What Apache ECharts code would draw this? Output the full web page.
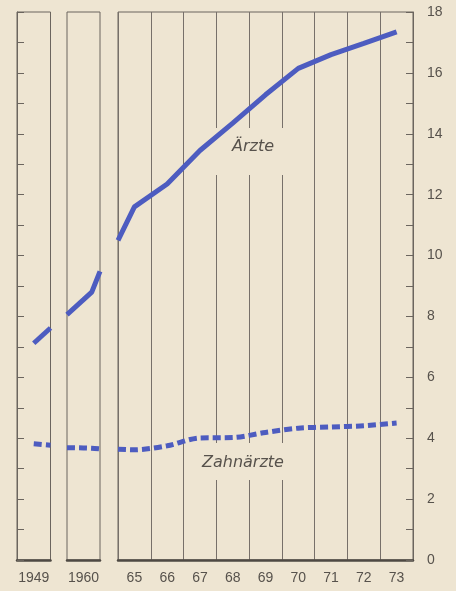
<!DOCTYPE html>
<html>
<head>
<meta charset="utf-8">
<script src="https://cdn.jsdelivr.net/npm/echarts@6/dist/echarts.min.js"></script>
<style>
html,body{margin:0;padding:0;background:#eee5d2;}
#c{width:456px;height:591px;}
</style>
</head>
<body>
<div id="c"></div>
<script>
// ---- data ----
const cats1 = ['1949'];
const cats2 = ['1960'];
const cats3 = ['65','66','67','68','69','70','71','72','73'];
const yTicks = [0,2,4,6,8,10,12,14,16,18];

// x positions (years; half-year values are panel edges)
const xP1 = [1949, 1949.5];
const aerzteP1 = [7.12, 7.62];
const zahnP1 = [3.82, 3.77];

const xP2 = [1959.5, 1960, 1960.25, 1960.5];
const aerzteP2 = [8.06, 8.55, 8.8, 9.48];
const zahnP2 = [3.69, 3.68, 3.67, 3.65];

const xP3 = [64.5, 65, 66, 67, 68, 69, 70, 71, 72, 73];
const aerzteP3 = [10.5, 11.6, 12.35, 13.45, 14.35, 15.28, 16.15, 16.6, 16.97, 17.35];
const zahnP3 = [3.64, 3.62, 3.75, 4.01, 4.02, 4.19, 4.33, 4.37, 4.41, 4.5];

const labelAerzte = 'Ärzte';
const labelZahn = 'Zahnärzte';

// ---- styling ----
const BG = '#eee5d2';
const FRAME = '#6b655e';
const TXT = '#57524c';
const BLUE = '#4d5cc0';
const FONT = 'Liberation Sans';

const pair = (xs, ys) => xs.map((x, i) => [x, ys[i]]);

const grids = [
  {left: 17, width: 33.5, top: 12, height: 548},
  {left: 67, width: 33, top: 12, height: 548},
  {left: 118, width: 295, top: 12, height: 548}
].map(g => Object.assign(g, {show: true, borderColor: FRAME, borderWidth: 1, backgroundColor: 'transparent'}));

function catAxis(gi, data, split) {
  return {
    type: 'category', gridIndex: gi, data: data, boundaryGap: true, position: 'bottom',
    axisLine: {show: true, lineStyle: {color: '#4e4943', width: 2.5}},
    axisTick: {show: false},
    axisLabel: {color: TXT, fontSize: 14, fontFamily: FONT, margin: 11, interval: 0},
    splitLine: {show: split, interval: 0, lineStyle: {color: '#77706a', width: 1}}
  };
}
function valXAxis(gi, min, max) {
  return {type: 'value', gridIndex: gi, min: min, max: max, show: false};
}
function yAx(gi, opts) {
  return Object.assign({
    type: 'value', gridIndex: gi, min: yTicks[0], max: yTicks[yTicks.length - 1], interval: 1,
    axisLine: {show: true, lineStyle: {color: FRAME, width: 1}},
    axisTick: {show: true, inside: true, length: 7, lineStyle: {color: FRAME, width: 1}},
    axisLabel: {show: false},
    splitLine: {show: false}
  }, opts);
}

const xAxes = [
  catAxis(0, cats1, false), catAxis(1, cats2, false), catAxis(2, cats3, true),
  valXAxis(0, 1948.5, 1949.5), valXAxis(1, 1959.5, 1960.5), valXAxis(2, 64.5, 73.5)
];
const yAxes = [
  yAx(0, {position: 'left'}),
  yAx(1, {show: false}),
  yAx(2, {position: 'right', axisLabel: {show: true, color: TXT, fontSize: 14, fontFamily: FONT, margin: 14,
    formatter: v => (yTicks.indexOf(v) >= 0 ? String(v) : '')}})
];

function lineSeries(xi, yi, xs, ys, dashed) {
  return {
    type: 'line', xAxisIndex: xi, yAxisIndex: yi, data: pair(xs, ys),
    symbol: 'none', smooth: dashed ? 0.3 : false, z: 5, silent: true,
    lineStyle: {color: BLUE, width: 5, type: dashed ? [8, 4] : 'solid', cap: 'butt'}
  };
}

const series = [
  lineSeries(3, 0, xP1, aerzteP1, false),
  lineSeries(3, 0, xP1, zahnP1, true),
  lineSeries(4, 1, xP2, aerzteP2, false),
  lineSeries(4, 1, xP2, zahnP2, true),
  lineSeries(5, 2, xP3, aerzteP3, false),
  lineSeries(5, 2, xP3, zahnP3, true)
];

const chart = echarts.init(document.getElementById('c'), null, {renderer: 'canvas'});
chart.setOption({
  backgroundColor: BG,
  animation: false,
  grid: grids,
  xAxis: xAxes,
  yAxis: yAxes,
  series: series,
  graphic: [
    {type: 'rect', z: 1, shape: {x: 211, y: 128, width: 81, height: 47}, style: {fill: BG}},
    {type: 'rect', z: 1, shape: {x: 200, y: 443, width: 96, height: 37}, style: {fill: BG}},
    {type: 'text', z: 10, x: 232, y: 139, style: {text: labelAerzte, fill: TXT, fontSize: 16, fontStyle: 'italic', fontFamily: 'DejaVu Sans'}},
    {type: 'text', z: 10, x: 202, y: 455, style: {text: labelZahn, fill: TXT, fontSize: 16, fontStyle: 'italic', fontFamily: 'DejaVu Sans'}}
  ]
});
</script>
</body>
</html>
